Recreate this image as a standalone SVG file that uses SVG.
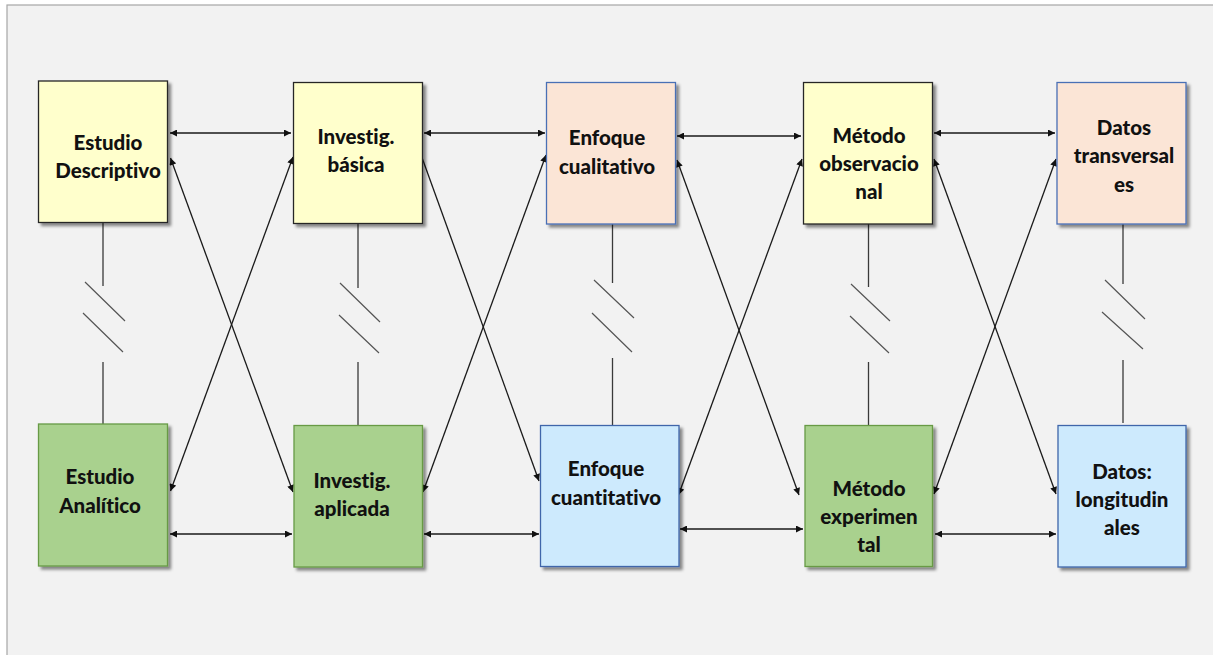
<svg xmlns="http://www.w3.org/2000/svg" width="1213" height="655" viewBox="0 0 1213 655">
  <defs>
    <marker id="arrow" viewBox="0 0 10 10" refX="10" refY="5" markerWidth="9" markerHeight="7" markerUnits="userSpaceOnUse" orient="auto-start-reverse">
      <path d="M0,0 L10,5 L0,10 z" fill="#111"/>
    </marker>
    <filter id="shadow" x="-10%" y="-10%" width="130%" height="130%">
      <feDropShadow dx="3" dy="3" stdDeviation="1.8" flood-color="#000" flood-opacity="0.45"/>
    </filter>
  </defs>
  <style>
    .box { filter: url(#shadow); stroke-width: 1.3; }
    .yellow { fill: #ffffcc; stroke: #262626; }
    .peach { fill: #fbe5d6; stroke: #4a6fb5; }
    .green { fill: #a9d18e; stroke: #679a45; }
    .blue { fill: #cdeafd; stroke: #3f66aa; }
    .label { font-family: Lato, "Liberation Sans", sans-serif; font-weight: 900; font-size: 20.5px; fill: #111; text-anchor: middle; font-variant-ligatures: none; }
    .arrow { stroke: #1a1a1a; stroke-width: 1.3; fill: none; marker-start: url(#arrow); marker-end: url(#arrow); }
    .link { stroke: #3a3a3a; stroke-width: 1.3; fill: none; }
    .cut { stroke: #555; stroke-width: 1.2; fill: none; }
  </style>

  <!-- canvas -->
  <rect x="7" y="5" width="1215" height="660" fill="#f2f2f2" stroke="#a6a6a6" stroke-width="1.2"/>

  <!-- connectors -->
  <g id="connectors">
    <!-- horizontal links, top row -->
    <path class="arrow" d="M170,133 H291"/>
    <path class="arrow" d="M424,133 H545"/>
    <path class="arrow" d="M677,136 H801"/>
    <path class="arrow" d="M934,133 H1055"/>
    <!-- horizontal links, bottom row -->
    <path class="arrow" d="M170,534 H292"/>
    <path class="arrow" d="M424,534 H539"/>
    <path class="arrow" d="M680,529 H803"/>
    <path class="arrow" d="M935,534 H1056"/>
    <!-- crossing links -->
    <path class="arrow" d="M170.5,158 L293,492"/>
    <path class="arrow" d="M170.5,491 L293,157"/>
    <path class="arrow" d="M416,141 L539,481"/>
    <path class="arrow" d="M423,492 L546,155"/>
    <path class="arrow" d="M677,160 L799,495"/>
    <path class="arrow" d="M678.5,495 L802,159"/>
    <path class="arrow" d="M934,159 L1056,494"/>
    <path class="arrow" d="M934,494 L1056,159"/>
    <!-- broken vertical links -->
    <path class="link" d="M103,222 V286 M103,362 V424"/>
    <path class="cut" d="M85,282 L125,321 M83,313 L123,352"/>
    <path class="link" d="M358,224 V288 M358,362 V425"/>
    <path class="cut" d="M340,283 L380,322 M339,315 L379,353"/>
    <path class="link" d="M612.5,221 V283 M612.5,358 V425"/>
    <path class="cut" d="M594,280 L634,318 M592,313 L632,352"/>
    <path class="link" d="M868.5,224 V287 M868.5,362 V425"/>
    <path class="cut" d="M851,284 L890,321 M850,316 L889,353"/>
    <path class="link" d="M1123,221 V284 M1123,360 V423"/>
    <path class="cut" d="M1105,280 L1145,319 M1102,312 L1143,349"/>
  </g>

  <!-- top row -->
  <g id="estudio-descriptivo">
    <rect class="box yellow" x="38.5" y="81" width="129" height="141.5"/>
    <text class="label" x="108" y="150">Estudio</text>
    <text class="label" x="108" y="178">Descriptivo</text>
  </g>
  <g id="investig-basica">
    <rect class="box yellow" x="293.5" y="82.5" width="129" height="141"/>
    <text class="label" x="356" y="144">Investig.</text>
    <text class="label" x="356" y="172">básica</text>
  </g>
  <g id="enfoque-cualitativo">
    <rect class="box peach" x="546.5" y="82.5" width="129" height="141.5"/>
    <text class="label" x="607" y="145">Enfoque</text>
    <text class="label" x="607" y="174">cualitativo</text>
  </g>
  <g id="metodo-observacional">
    <rect class="box yellow" x="803.5" y="82.5" width="129" height="141.5"/>
    <text class="label" x="869" y="143">Método</text>
    <text class="label" x="869" y="171">observacio</text>
    <text class="label" x="869" y="199">nal</text>
  </g>
  <g id="datos-transversales">
    <rect class="box peach" x="1057" y="82.5" width="129" height="141.5"/>
    <text class="label" x="1124" y="135">Datos</text>
    <text class="label" x="1124" y="163">transversal</text>
    <text class="label" x="1124" y="192">es</text>
  </g>

  <!-- bottom row -->
  <g id="estudio-analitico">
    <rect class="box green" x="38.5" y="424" width="129" height="142"/>
    <text class="label" x="100" y="484">Estudio</text>
    <text class="label" x="100" y="513">Analítico</text>
  </g>
  <g id="investig-aplicada">
    <rect class="box green" x="294" y="425.5" width="128.5" height="141.5"/>
    <text class="label" x="352" y="488">Investig.</text>
    <text class="label" x="352" y="516">aplicada</text>
  </g>
  <g id="enfoque-cuantitativo">
    <rect class="box blue" x="540.5" y="425.5" width="138.5" height="141"/>
    <text class="label" x="606" y="476">Enfoque</text>
    <text class="label" x="606" y="505">cuantitativo</text>
  </g>
  <g id="metodo-experimental">
    <rect class="box green" x="805" y="425.5" width="127.5" height="141"/>
    <text class="label" x="869" y="496">Método</text>
    <text class="label" x="869" y="524">experimen</text>
    <text class="label" x="869" y="552">tal</text>
  </g>
  <g id="datos-longitudinales">
    <rect class="box blue" x="1058" y="425.5" width="128" height="141.5"/>
    <text class="label" x="1122" y="479">Datos:</text>
    <text class="label" x="1122" y="507">longitudin</text>
    <text class="label" x="1122" y="535">ales</text>
  </g>
</svg>
